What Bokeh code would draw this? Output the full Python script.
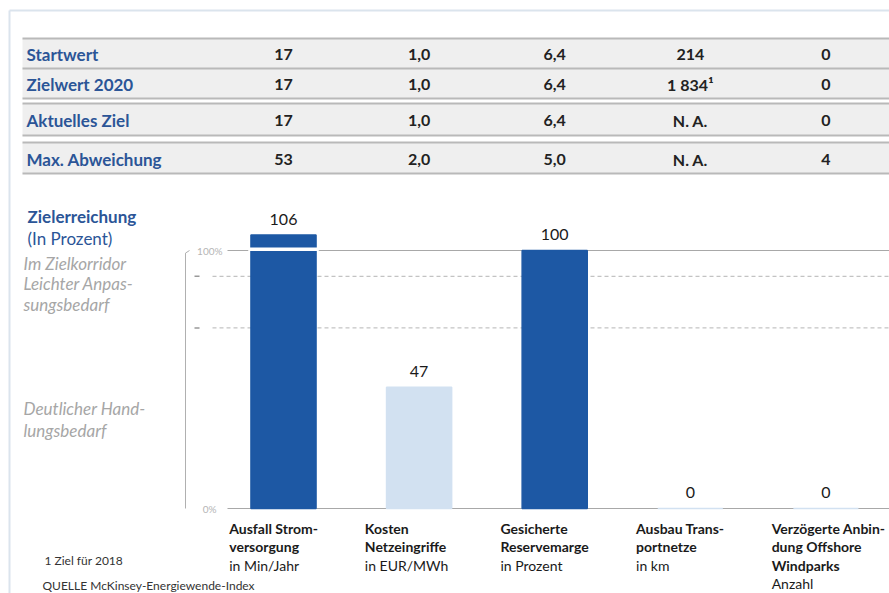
from bokeh.plotting import figure
from bokeh.models import Range1d
from bokeh.embed import file_html
from bokeh.resources import INLINE
from bokeh.core.properties import value

# ---------------- data ----------------
row_labels = ["Startwert", "Zielwert 2020", "Aktuelles Ziel", "Max. Abweichung"]
startwert = ["17", "1,0", "6,4", "214", "0"]
zielwert_2020 = ["17", "1,0", "6,4", "1 834¹", "0"]
aktuelles_ziel = ["17", "1,0", "6,4", "N. A.", "0"]
max_abweichung = ["53", "2,0", "5,0", "N. A.", "4"]

categories = ["Ausfall Strom-\nversorgung", "Kosten\nNetzeingriffe",
              "Gesicherte\nReservemarge", "Ausbau Trans-\nportnetze",
              "Verzögerte Anbin-\ndung Offshore\nWindparks"]
units = ["in Min/Jahr", "in EUR/MWh", "in Prozent", "in km", "Anzahl"]
zielerreichung = [106, 47, 100, 0, 0]          # percent
korridor_grenzen = [90, 70]                    # zone boundaries, percent
axis_ticks = [100, 0]
axis_tick_labels = ["100%", "0%"]
zonen = ["Im Zielkorridor", "Leichter Anpas-\nsungsbedarf", "Deutlicher Hand-\nlungsbedarf"]
titel = ["Zielerreichung", "(In Prozent)"]
fussnote = "1 Ziel für 2018"
quelle = "QUELLE  McKinsey-Energiewende-Index"

# ---------------- layout helpers ----------------
W, H = 889, 593
S = 135.6          # px per category
X0 = 283.0         # px of first category centre
PY0 = 508.0        # px of 0 %
PYK = 2.58         # px per percent


def X(px):
    return (px - X0) / S


def Y(py):
    return (PY0 - py) / PYK


FONT = value("Lato")
BLUE_TXT = "#2b5597"
GREY_TXT = "#a6a6a6"
DARK = "#1d58a4"
LIGHT = "#d2e1f1"

p = figure(width=W, height=H, output_backend="svg", toolbar_location=None,
           x_range=Range1d(X(0), X(W)), y_range=Range1d(Y(H), Y(0)),
           min_border=0, outline_line_color=None, background_fill_color="white")
p.axis.visible = False
p.grid.visible = False

# frame
p.segment(x0=[X(9)], y0=[Y(10)], x1=[X(W)], y1=[Y(10)], line_color="#dbe4ed", line_width=2)
p.segment(x0=[X(9)], y0=[Y(10)], x1=[X(9)], y1=[Y(H)], line_color="#dbe4ed", line_width=2)

# ---------------- table ----------------
band_top = [38, 68, 103, 142]
band_bot = [68, 98, 135, 173]
p.quad(left=X(22), right=X(W), top=[Y(t) for t in band_top], bottom=[Y(b) for b in band_bot],
       fill_color="#efefef", line_color=None)
lines_y = sorted(set(band_top + band_bot))
p.segment(x0=[X(22)] * len(lines_y), x1=[X(W)] * len(lines_y),
          y0=[Y(v) for v in lines_y], y1=[Y(v) for v in lines_y],
          line_color="#b9b9b9", line_width=2)

rows = [startwert, zielwert_2020, aktuelles_ziel, max_abweichung]
for r, (lab, vals) in enumerate(zip(row_labels, rows)):
    yc = Y((band_top[r] + band_bot[r]) / 2 + 1)
    p.text(x=[X(26)], y=[yc], text=[lab], text_font=FONT, text_font_style="bold",
           text_font_size="17px", text_color=BLUE_TXT, text_baseline="middle", text_align="left")
    p.text(x=list(range(len(vals))), y=[yc] * len(vals), text=vals, text_font=FONT,
           text_font_style="bold", text_font_size="16px", text_color="#222222",
           text_baseline="middle", text_align="center")

# ---------------- chart ----------------
xs = list(range(len(zielerreichung)))
colors = [DARK if v >= korridor_grenzen[0] else LIGHT for v in zielerreichung]

# reference lines
p.segment(x0=[X(212)] * 2, x1=[X(W)] * 2, y0=korridor_grenzen, y1=korridor_grenzen,
          line_color="#b5b5b5", line_width=1, line_dash="4 3")
p.segment(x0=[X(227)] * 2, x1=[X(W)] * 2, y0=axis_ticks, y1=axis_ticks,
          line_color="#a8a8a8", line_width=1.2)

# bars
p.vbar(x=xs, top=zielerreichung, bottom=0, width=0.48, fill_color=colors,
       line_color=colors, line_width=1.5)

# axis break on bars over 100 %
over = [x for x, v in zip(xs, zielerreichung) if v > 100]
p.rect(x=over, y=[100.5] * len(over), width=0.52, height=1.3, fill_color="white", line_color=None)

# value labels
p.text(x=xs, y=zielerreichung, text=[str(v) for v in zielerreichung], text_font=FONT,
       text_font_size="16px", text_color="#1a1a1a", text_align="center",
       text_baseline="middle", y_offset=-16)

# custom y axis
p.segment(x0=[X(185)], x1=[X(185)], y0=[min(axis_ticks)], y1=[max(axis_ticks) - 1],
          line_color="#b0b0b0", line_width=1)
p.segment(x0=[X(185)], x1=[X(189)], y0=[max(axis_ticks) - 1], y1=[max(axis_ticks)],
          line_color="#b0b0b0", line_width=1)
p.segment(x0=[X(194)] * 2, x1=[X(199)] * 2, y0=korridor_grenzen, y1=korridor_grenzen,
          line_color="#999999", line_width=1.5)
p.text(x=[X(222), X(216)], y=axis_ticks, text=axis_tick_labels, text_font=FONT,
       text_font_size="10px", text_color="#b5b5b5", text_align="right", text_baseline="middle")

# category labels
for i, (cat, unit) in enumerate(zip(categories, units)):
    parts = cat.split("\n")
    ys = [Y(528 + 18.3 * k) for k in range(len(parts) + 1)]
    p.text(x=[i - 0.4] * len(parts), y=ys[:len(parts)], text=parts, text_font=FONT,
           text_font_style="bold", text_font_size="14px", text_color="#1a1a1a",
           text_baseline="middle", text_align="left")
    p.text(x=[i - 0.4], y=[ys[-1]], text=[unit], text_font=FONT,
           text_font_size="14px", text_color="#1a1a1a",
           text_baseline="middle", text_align="left")

# left titles
p.text(x=[X(27)], y=[Y(216)], text=[titel[0]], text_font=FONT, text_font_style="bold",
       text_font_size="17px", text_color=BLUE_TXT, text_baseline="middle")
p.text(x=[X(27)], y=[Y(238)], text=[titel[1]], text_font=FONT,
       text_font_size="17px", text_color=BLUE_TXT, text_baseline="middle")

zone_py = [[263], [283, 304], [408, 430]]
for z, pys in zip(zonen, zone_py):
    parts = z.split("\n")
    p.text(x=[X(23)] * len(parts), y=[Y(v) for v in pys], text=parts, text_font=FONT,
           text_font_style="italic", text_font_size="17px", text_color=GREY_TXT,
           text_baseline="middle")

# footnotes
p.text(x=[X(44)], y=[Y(560)], text=[fussnote], text_font=FONT, text_font_size="12px",
       text_color="#333333", text_baseline="middle")
p.text(x=[X(42)], y=[Y(585)], text=[quelle], text_font=FONT, text_font_size="12px",
       text_color="#333333", text_baseline="middle")

open("out.html", "w").write(file_html(p, INLINE))
